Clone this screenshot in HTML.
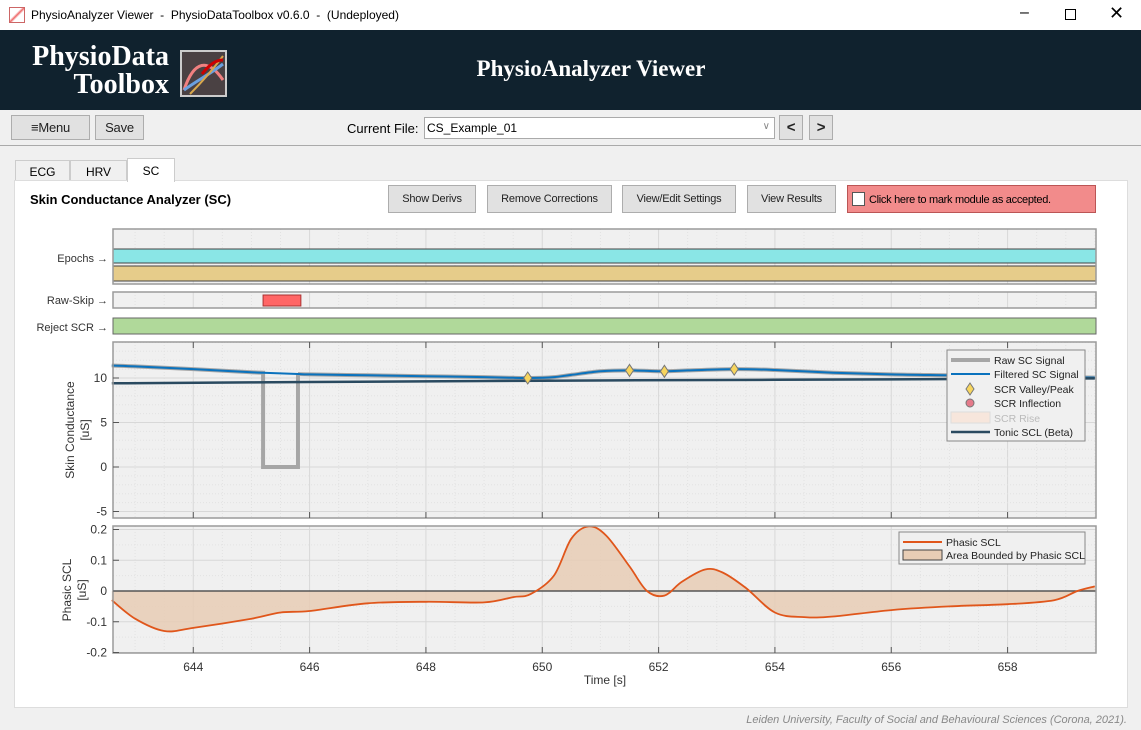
<!DOCTYPE html>
<html><head><meta charset="utf-8">
<style>
*{box-sizing:border-box;margin:0;padding:0}
body{width:1141px;height:730px;overflow:hidden;background:#f0f0f0;font-family:"Liberation Sans",sans-serif;position:relative}
.abs{position:absolute}
.btn{position:absolute;background:#e1e1e1;border:1px solid #adadad;font-size:11px;color:#222;display:flex;align-items:center;justify-content:center;white-space:nowrap;letter-spacing:-0.2px}
</style></head><body>
<div class="abs" style="left:0;top:0;width:1141px;height:30px;background:#fff;font-size:12px;">
 <div class="abs" style="left:9px;top:7px;width:16px;height:16px;border:1px solid #c66;background:linear-gradient(135deg,#fff 40%,#e66 50%,#fff 60%)"></div>
 <div class="abs" style="left:31px;top:8px;color:#000">PhysioAnalyzer Viewer&nbsp; - &nbsp;PhysioDataToolbox v0.6.0&nbsp; - &nbsp;(Undeployed)</div>
 <div class="abs" style="left:1020px;top:4px;font-size:16px">&#8211;</div>
 <div class="abs" style="left:1065px;top:9px;width:11px;height:11px;border:1px solid #000"></div>
 <div class="abs" style="left:1109px;top:3px;font-size:18px">&#10005;</div>
</div>
<div class="abs" style="left:0;top:30px;width:1141px;height:80px;background:#10222e">
 <div class="abs" style="left:24px;top:13px;color:#fff;font-family:'Liberation Serif',serif;font-weight:bold;font-size:28px;line-height:28px;text-align:right;width:145px">PhysioData<br>Toolbox</div>
 <svg class="abs" style="left:180px;top:20px" width="47" height="47"><rect x="1" y="1" width="45" height="45" fill="#4a4143" stroke="#ccc" stroke-width="2"/><path d="M4 40 C14 10 28 8 43 30" stroke="#f08080" stroke-width="3" fill="none"/><path d="M4 40 C18 30 30 24 43 14" stroke="#6aa0e0" stroke-width="3" fill="none"/><path d="M10 44 C24 30 34 18 43 6" stroke="#d9a84c" stroke-width="2" fill="none"/><path d="M22 24 C30 14 36 10 43 10" stroke="#c00" stroke-width="3" fill="none"/></svg>
 <div class="abs" style="left:0;width:1182px;top:26px;text-align:center;color:#fff;font-family:'Liberation Serif',serif;font-weight:bold;font-size:23px">PhysioAnalyzer Viewer</div>
</div>
<div class="abs" style="left:0;top:110px;width:1141px;height:36px;border-bottom:1px solid #aaa"></div>
<div class="btn" style="left:11px;top:115px;width:79px;height:25px;font-size:13px">&#8801;Menu</div>
<div class="btn" style="left:95px;top:115px;width:49px;height:25px;font-size:13px">Save</div>
<div class="abs" style="left:347px;top:121px;font-size:13px">Current File:</div>
<div class="abs" style="left:424px;top:117px;width:351px;height:22px;background:#fff;border:1px solid #aaa;font-size:12px;padding:3px 2px">CS_Example_01<span style="position:absolute;right:4px;top:3px;color:#888;font-size:10px">&#8744;</span></div>
<div class="btn" style="left:779px;top:115px;width:24px;height:25px;font-size:15px;font-weight:bold">&lt;</div>
<div class="btn" style="left:809px;top:115px;width:24px;height:25px;font-size:15px;font-weight:bold">&gt;</div>
<div class="abs" style="left:15px;top:160px;width:55px;height:21px;background:#f0f0f0;border:1px solid #ccc;font-size:12px;text-align:center;padding-top:4px">ECG</div>
<div class="abs" style="left:70px;top:160px;width:57px;height:21px;background:#f0f0f0;border:1px solid #ccc;font-size:12px;text-align:center;padding-top:4px">HRV</div>
<div class="abs" style="left:127px;top:158px;width:48px;height:24px;background:#fff;border:1px solid #ccc;border-bottom:none;font-size:12px;text-align:center;padding-top:5px;z-index:2">SC</div>
<div class="abs" style="left:14px;top:180px;width:1114px;height:528px;background:#fff;border:1px solid #ddd"></div>
<div class="abs" style="left:30px;top:192px;font-size:13px;font-weight:bold">Skin Conductance Analyzer (SC)</div>
<div class="btn" style="left:388px;top:185px;width:88px;height:28px">Show Derivs</div>
<div class="btn" style="left:487px;top:185px;width:125px;height:28px">Remove Corrections</div>
<div class="btn" style="left:622px;top:185px;width:114px;height:28px">View/Edit Settings</div>
<div class="btn" style="left:747px;top:185px;width:89px;height:28px">View Results</div>
<div class="abs" style="left:847px;top:185px;width:249px;height:28px;background:#f28b8b;border:1px solid #b55;font-size:11px;padding:8px 0 0 21px;white-space:nowrap;letter-spacing:-0.3px">Click here to mark module as accepted.<span style="position:absolute;left:4px;top:6px;width:13px;height:14px;background:#fff;border:1px solid #555"></span></div>
<div class="abs" style="right:14px;top:714px;font-size:11px;font-style:italic;color:#888">Leiden University, Faculty of Social and Behavioural Sciences (Corona, 2021).</div>

<svg id="ch" class="abs" style="left:0;top:0" width="1141" height="730" font-family="Liberation Sans, sans-serif"></svg>
<script>
const xTicks=[644,646,648,650,652,654,656,658];
const scTicks=[-5,0,5,10];
const phTicks=[-0.2,-0.1,0,0.1,0.2];
const scTime=[642.6,643,644,645,645.2,645.8,646,647,648,649,649.5,649.8,650.2,650.5,651,651.5,652.1,652.5,653.3,654,655,656,657,658,659,659.5];
const scFiltered=[11.4,11.3,11.0,10.65,10.6,10.45,10.4,10.3,10.2,10.1,10.02,10.0,10.1,10.35,10.75,10.85,10.75,10.85,11.0,10.9,10.6,10.4,10.3,10.2,10.1,10.05];
const rawSkipStart=645.2, rawSkipEnd=645.85;
const tonicTime=[642.6,646,650,654,659.5];
const tonicVals=[9.4,9.55,9.7,9.8,9.95];
const peakTime=[649.75,651.5,652.1,653.3];
const peakVals=[10.0,10.85,10.75,11.0];
const phTime=[642.6,643,643.5,644,645,645.5,646,647,648,649,649.5,649.8,650.2,650.5,650.8,651.1,651.5,651.8,652.1,652.4,652.8,653.1,653.5,654,654.5,655,656,657,658,658.8,659.2,659.5];
const phVals=[-0.03,-0.09,-0.13,-0.12,-0.09,-0.07,-0.065,-0.04,-0.035,-0.037,-0.02,-0.01,0.05,0.17,0.21,0.18,0.08,0.0,-0.015,0.03,0.07,0.06,0.01,-0.07,-0.085,-0.083,-0.062,-0.05,-0.043,-0.03,0.0,0.015];

const S=document.getElementById('ch'),NS='http://www.w3.org/2000/svg';
const X0=113,X1=1096,T0=642.62,T1=659.52;
const xs=t=>X0+(t-T0)/(T1-T0)*(X1-X0);
const yTop=v=>467-v*8.9;
const yPh=v=>591-v*307.5;
function mk(tag,a,p){const e=document.createElementNS(NS,tag);for(const k in a)e.setAttribute(k,a[k]);(p||S).appendChild(e);return e;}
function txt(s,x,y,a){const e=mk('text',Object.assign({x:x,y:y,'font-size':12,fill:'#333'},a||{}));e.textContent=s;return e;}
function smooth(ts,vs,f){
  const P=ts.map((t,i)=>[xs(t),f(vs[i])]);
  let d='M'+P[0][0].toFixed(1)+','+P[0][1].toFixed(1);
  for(let i=0;i<P.length-1;i++){
    const p0=P[Math.max(0,i-1)],p1=P[i],p2=P[i+1],p3=P[Math.min(P.length-1,i+2)];
    const c1=[p1[0]+(p2[0]-p0[0])/6,p1[1]+(p2[1]-p0[1])/6];
    const c2=[p2[0]-(p3[0]-p1[0])/6,p2[1]-(p3[1]-p1[1])/6];
    d+=` C${c1[0].toFixed(1)},${c1[1].toFixed(1)} ${c2[0].toFixed(1)},${c2[1].toFixed(1)} ${p2[0].toFixed(1)},${p2[1].toFixed(1)}`;
  }
  return d;
}
function axesBox(y0,y1,name,minorY){
  const r=mk('rect',{x:X0,y:y0,width:X1-X0,height:y1-y0,fill:'#f0f0f0',stroke:'none'});
  
  
  for(let t=643;t<=659.5;t+=0.5){const x=xs(t);const major=Math.abs(t%2)<1e-6;
    mk('line',{x1:x,x2:x,y1:y0,y2:y1,stroke:major?'#d8d8d8':'#e2e2e2','stroke-dasharray':major?'':'1,2'});}
  (minorY||[]).forEach(y=>mk('line',{x1:X0,x2:X1,y1:y[0],y2:y[0],stroke:y[1]?'#d8d8d8':'#e2e2e2','stroke-dasharray':y[1]?'':'1,2'}));
}
function frame(y0,y1){mk('rect',{x:X0,y:y0,width:X1-X0,height:y1-y0,fill:'none',stroke:'#9a9a9a','stroke-width':1.5});}
axesBox(229,284,'epochs-axes');
let e1=mk('rect',{x:X0,y:249,width:X1-X0,height:14,fill:'#8ae6e6',stroke:'#444'});


let e2=mk('rect',{x:X0,y:266,width:X1-X0,height:15,fill:'#e6cc8a',stroke:'#444'});


frame(229,284);
axesBox(292,308,'raw-skip-axes');
let rs=mk('rect',{x:xs(rawSkipStart),y:295,width:xs(rawSkipEnd)-xs(rawSkipStart),height:11,fill:'#ff6666',stroke:'#a33'});


frame(292,308);
let rj=mk('rect',{x:X0,y:318,width:X1-X0,height:16,fill:'#b0d99a',stroke:'#666'});


[['Epochs \u2192',262],['Raw-Skip \u2192',304],['Reject SCR \u2192',331]].forEach(l=>{const t=txt(l[0],108,l[1],{'text-anchor':'end','font-size':11});
 
 });
const gy=[];for(let v=-5;v<=14;v+=1)gy.push([yTop(v),v%5===0]);
axesBox(342,518,'sc-axes',gy.filter(g=>g[0]>342&&g[0]<518));
const pts=(ts,vs,f)=>ts.map((t,i)=>xs(t).toFixed(1)+','+f(vs[i]).toFixed(1)).join(' ');
let i0=scTime.indexOf(645.2), i1=scTime.indexOf(645.8);
let rawA=smooth(scTime.slice(0,i0+1),scFiltered.slice(0,i0+1),yTop);
let rawB=smooth(scTime.slice(i1),scFiltered.slice(i1),yTop);
let rawD=rawA+` L${xs(645.2)},${yTop(0)} L${xs(645.8)},${yTop(0)} L${xs(645.8)},${yTop(scFiltered[i1])} `+rawB.replace('M',' M');
let raw=mk('path',{d:rawD,fill:'none',stroke:'#a6a6a6','stroke-width':4});


let fl=mk('path',{d:smooth(scTime,scFiltered,yTop),fill:'none',stroke:'#0a72bd','stroke-width':2});


let tn=mk('path',{d:smooth(tonicTime,tonicVals,yTop),fill:'none',stroke:'#2a4a60','stroke-width':2.5});


peakTime.forEach((t,i)=>{const x=xs(t),y=yTop(peakVals[i]);
 const d=mk('polygon',{points:`${x},${y-6} ${x+4},${y} ${x},${y+6} ${x-4},${y}`,fill:'#f7d55e',stroke:'#777'});
 
 });
frame(342,518);
scTicks.forEach(v=>{const y=yTop(v);mk('line',{x1:X0,x2:X0+6,y1:y,y2:y,stroke:'#555'});txt(v,107,y+4,{'text-anchor':'end'});});
const lg=mk('g',{});


mk('rect',{x:947,y:350,width:138,height:91,fill:'#f0f0f0',stroke:'#888'},lg);
mk('line',{x1:951,x2:990,y1:360,y2:360,stroke:'#a6a6a6','stroke-width':4},lg);
mk('line',{x1:951,x2:990,y1:374,y2:374,stroke:'#0a72bd','stroke-width':2},lg);
mk('polygon',{points:'970,383 974,389 970,395 966,389',fill:'#f7d55e',stroke:'#777'},lg);
mk('circle',{cx:970,cy:403,r:4,fill:'#e57a8a',stroke:'#777'},lg);
mk('rect',{x:951,y:412,width:39,height:11,fill:'#f7e6dc',stroke:'#ddd'},lg);
mk('line',{x1:951,x2:990,y1:432,y2:432,stroke:'#2a4a60','stroke-width':2.5},lg);
[['Raw SC Signal',364],['Filtered SC Signal',378],['SCR Valley/Peak',393],['SCR Inflection',407],['SCR Rise',422],['Tonic SCL (Beta)',436]].forEach((l,i)=>{const t=txt(l[0],994,l[1],{'font-size':10.5,fill:i===4?'#bbb':'#222'});lg.appendChild(t);});
let yl=txt('Skin Conductance',0,0,{transform:'translate(74,430) rotate(-90)','text-anchor':'middle'});


txt('[uS]',0,0,{transform:'translate(89,430) rotate(-90)','text-anchor':'middle'});
const gp=[];for(let k=-4;k<=4;k++)gp.push([yPh(k*0.05),k%2===0]);
axesBox(526,653,'phasic-axes',gp.filter(g=>g[0]>526&&g[0]<653));
const phD=smooth(phTime,phVals,yPh);
let area=mk('path',{d:`M${xs(phTime[0])},${yPh(0)} L`+phD.slice(1)+` L${xs(phTime[phTime.length-1])},${yPh(0)} Z`,fill:'#e8cdb5','fill-opacity':0.85,stroke:'none'});


mk('line',{x1:X0,x2:X1,y1:yPh(0),y2:yPh(0),stroke:'#555','stroke-width':1.5});
let ph=mk('path',{d:phD,fill:'none',stroke:'#e0561b','stroke-width':1.8});


frame(526,653);
phTicks.forEach(v=>{const y=yPh(v);mk('line',{x1:X0,x2:X0+6,y1:y,y2:y,stroke:'#555'});txt(String(v),107,y+4,{'text-anchor':'end'});});
xTicks.forEach(t=>{const x=xs(t);mk('line',{x1:x,x2:x,y1:653,y2:647,stroke:'#555'});mk('line',{x1:x,x2:x,y1:518,y2:512,stroke:'#555'});mk('line',{x1:x,x2:x,y1:342,y2:348,stroke:'#555'});
 const l=txt(t,x,671,{'text-anchor':'middle'});});
let xl=txt('Time [s]',605,684,{'text-anchor':'middle'});


let pl=txt('Phasic SCL',0,0,{transform:'translate(71,590) rotate(-90)','text-anchor':'middle'});


txt('[uS]',0,0,{transform:'translate(86,590) rotate(-90)','text-anchor':'middle'});
const lg2=mk('g',{});


mk('rect',{x:899,y:532,width:186,height:32,fill:'#f0f0f0',stroke:'#888'},lg2);
mk('line',{x1:903,x2:942,y1:542,y2:542,stroke:'#e0561b','stroke-width':2},lg2);
mk('rect',{x:903,y:550,width:39,height:10,fill:'#e8cdb5',stroke:'#444'},lg2);
[['Phasic SCL',546],['Area Bounded by Phasic SCL',559]].forEach(l=>{const t=txt(l[0],946,l[1],{'font-size':10.5,fill:'#222'});lg2.appendChild(t);});
</script>
</body></html>
